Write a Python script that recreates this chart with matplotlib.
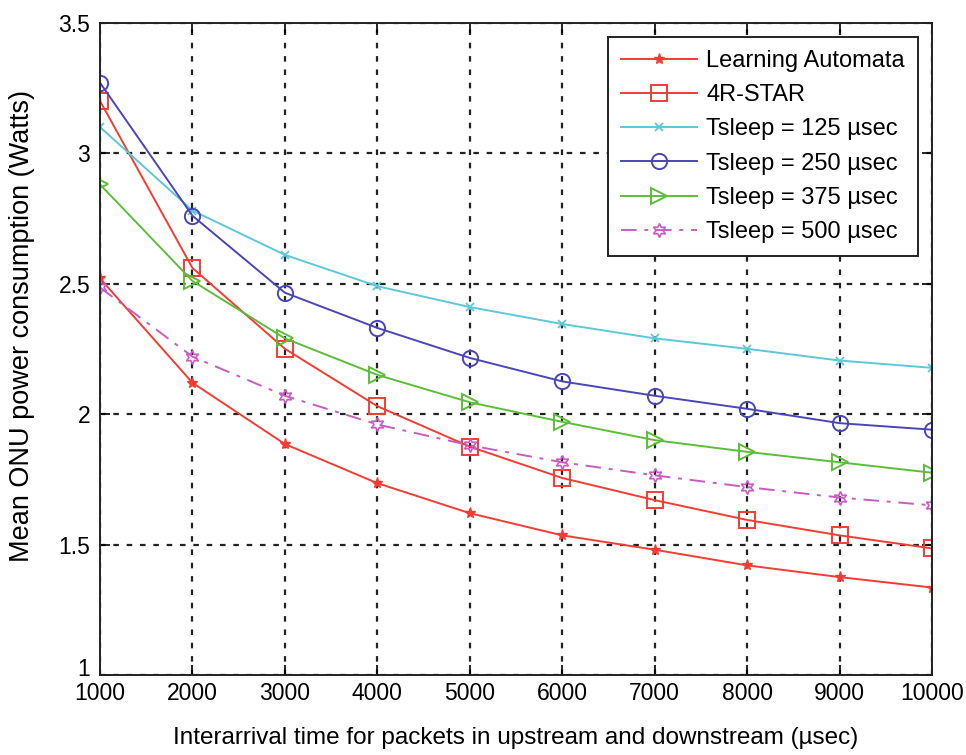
import matplotlib
matplotlib.use("Agg")
import matplotlib.pyplot as plt
import matplotlib.transforms as mtransforms

plt.rcParams['font.family'] = ['Liberation Sans', 'DejaVu Sans']

interarrival = [1000, 2000, 3000, 4000, 5000, 6000, 7000, 8000, 9000, 10000]

learning_automata = [2.52, 2.12, 1.885, 1.735, 1.62, 1.535, 1.48, 1.42, 1.375, 1.335]
four_r_star = [3.2, 2.56, 2.25, 2.03, 1.875, 1.755, 1.67, 1.594, 1.535, 1.485]
tsleep_125 = [3.1, 2.78, 2.61, 2.49, 2.41, 2.345, 2.29, 2.25, 2.205, 2.177]
tsleep_250 = [3.27, 2.76, 2.465, 2.33, 2.215, 2.125, 2.07, 2.02, 1.965, 1.94]
tsleep_375 = [2.88, 2.51, 2.29, 2.15, 2.045, 1.97, 1.90, 1.855, 1.815, 1.775]
tsleep_500 = [2.485, 2.22, 2.07, 1.96, 1.88, 1.815, 1.765, 1.72, 1.68, 1.65]

labels = ["Learning Automata", "4R-STAR", "Tsleep = 125 \u00b5sec",
          "Tsleep = 250 \u00b5sec", "Tsleep = 375 \u00b5sec", "Tsleep = 500 \u00b5sec"]

xticks = [1000, 2000, 3000, 4000, 5000, 6000, 7000, 8000, 9000, 10000]
yticks = [1, 1.5, 2, 2.5, 3, 3.5]
ytick_labels = ["1", "1.5", "2", "2.5", "3", "3.5"]

fig = plt.figure(figsize=(9.66, 7.55), dpi=100)
ax = fig.add_axes([0.1035, 0.106, 0.8615, 0.864])

red = "#f43c34"
ax.plot(interarrival, learning_automata, color=red, lw=1.4, marker="*", ms=8,
        mfc=red, mec=red, label=labels[0])
ax.plot(interarrival, four_r_star, color=red, lw=1.4, marker="s", ms=11,
        mfc="none", mec=red, mew=1.4, label=labels[1])
ax.plot(interarrival, tsleep_125, color="#5cc8d8", lw=1.4, marker="x", ms=6,
        mew=1.3, label=labels[2])
ax.plot(interarrival, tsleep_250, color="#4a46b8", lw=1.4, marker="o", ms=11,
        mfc="none", mew=1.4, label=labels[3])
ax.plot(interarrival, tsleep_375, color="#5cbe38", lw=1.4, marker=">", ms=11,
        mfc="none", mew=1.4, label=labels[4])
ax.plot(interarrival, tsleep_500, color="#c85cc4", lw=1.4, ls=(0, (8, 4, 2, 4)),
        marker=(6, 1, 0), ms=10, mfc="none", mew=1.2, label=labels[5])

ax.set_xlim(1000, 10000)
ax.set_ylim(1, 3.5)
ax.set_xticks(xticks)
ax.set_xticklabels([str(t) for t in xticks])
ax.set_yticks(yticks)
ax.set_yticklabels(ytick_labels)
ax.tick_params(direction="in", length=7, width=1.2, labelsize=16.5,
               top=True, right=True)
ax.tick_params(axis="x", pad=5)
ax.tick_params(axis="y", pad=7)
ax.grid(True, color="#222222", ls=(0, (2.5, 3.5)), lw=1.6)
for s in ax.spines.values():
    s.set_linewidth(1.4)
    s.set_color("#222222")

# lift the bottom y label so it sits above the axis line
lowest = ax.get_yticklabels()[0]
lowest.set_transform(lowest.get_transform() +
                     mtransforms.ScaledTranslation(0, 6 / 72, fig.dpi_scale_trans))

ax.set_xlabel("Interarrival time for packets in upstream and downstream (\u00b5sec)",
              fontsize=17.5, labelpad=16)
ax.set_ylabel("Mean ONU power consumption (Watts)", fontsize=19.5)
ax.yaxis.set_label_coords(-0.078, 0.535)

leg = ax.legend(loc="upper right", fontsize=17, handlelength=3.2,
                borderaxespad=0.6, fancybox=False, edgecolor="#222222",
                framealpha=1, labelspacing=0.52, handletextpad=0.4,
                borderpad=0.55)
leg.get_frame().set_linewidth(1.4)

fig.savefig("out.png", dpi=100)
